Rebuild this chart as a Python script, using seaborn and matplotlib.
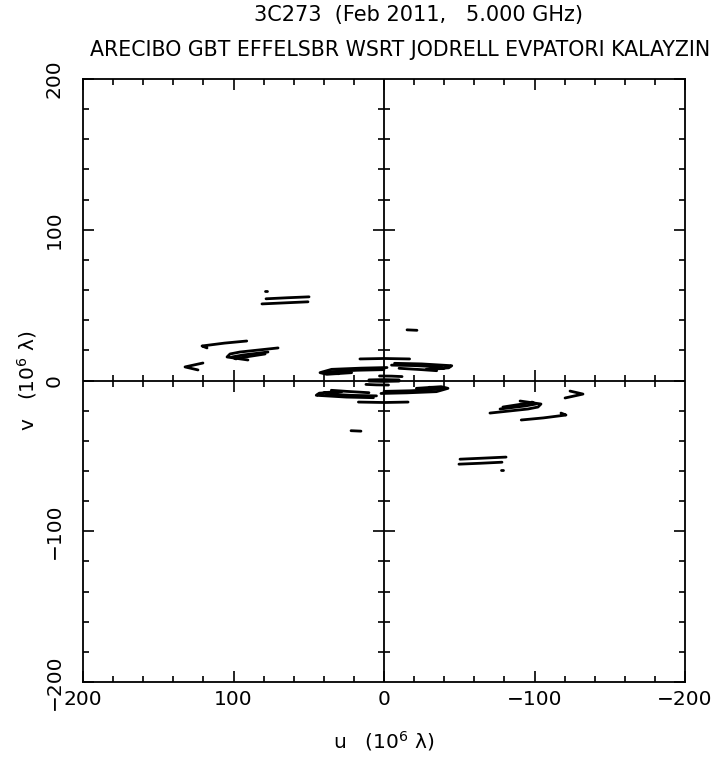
import numpy as np
import pandas as pd
import matplotlib
matplotlib.use("Agg")
import matplotlib.pyplot as plt
import seaborn as sns

# ---------------- text ----------------
title_text = "3C273  (Feb 2011,   5.000 GHz)"
stations_text = "ARECIBO GBT EFFELSBR WSRT JODRELL EVPATORI KALAYZIN"
x_label = "u   (10$^{6}$ \u03bb)"
y_label = "v   (10$^{6}$ \u03bb)"

x_ticks = [200, 100, 0, -100, -200]
x_ticklabels = ["200", "100", "0", "\u2212100", "\u2212200"]
y_ticks = [-200, -100, 0, 100, 200]
y_ticklabels = ["\u2212200", "\u2212100", "0", "100", "200"]

# ---------------- uv tracks (one half; conjugate points are drawn too) ----------------
trackA_u = [78.4, 64.0, 49.8]
trackA_v = [54.2, 54.9, 55.5]
trackB_u = [81.1, 66.0, 50.5]
trackB_v = [50.8, 51.5, 52.2]
trackC_u = [78.8, 77.6]
trackC_v = [59.5, 59.5]
trackD_u = [91.2, 106.0, 120.9, 117.6]
trackD_v = [26.2, 24.8, 22.9, 21.6]
trackE1_u = [70.4, 95.7, 102.3, 104.3, 90.4]
trackE1_v = [21.6, 18.9, 17.6, 15.6, 13.6]
trackE2_u = [77.1, 93.7, 101.0, 98.3]
trackE2_v = [18.9, 16.9, 15.6, 14.3]
trackE3_u = [79.0, 92.0, 99.0]
trackE3_v = [17.6, 15.6, 14.6]
trackF_u = [120.3, 132.2, 123.6]
trackF_v = [11.6, 9.0, 7.0]
trackG_u = [-15.3, -21.9]
trackG_v = [33.6, 33.3]
trackH_u = [16.0, 0.0, -17.0]
trackH_v = [14.3, 14.6, 14.3]
trackI1_u = [-7.0, -25.0, -45.0, -43.0, -30.0]
trackI1_v = [11.4, 11.0, 9.8, 8.4, 7.6]
trackI2_u = [-10.0, -25.0, -35.0]
trackI2_v = [8.1, 7.2, 6.5]
trackI3_u = [-5.0, -20.0, -38.0, -40.0, -28.0]
trackI3_v = [10.2, 9.9, 9.0, 8.0, 7.4]
trackJ1_u = [-2.0, 15.0, 34.8, 42.5, 38.0, 21.5]
trackJ1_v = [8.6, 8.2, 7.4, 5.2, 4.1, 5.2]
trackJ2_u = [0.0, 18.0, 36.0, 40.0, 30.0]
trackJ2_v = [7.2, 6.8, 5.8, 4.8, 4.5]
trackK1_u = [3.0, -5.0, -12.0]
trackK1_v = [3.0, 2.9, 2.6]
trackK2_u = [10.0, 0.0, -10.0]
trackK2_v = [0.4, 0.6, 0.4]

tracks = {
    "A": (trackA_u, trackA_v), "B": (trackB_u, trackB_v), "C": (trackC_u, trackC_v),
    "D": (trackD_u, trackD_v), "E1": (trackE1_u, trackE1_v), "E2": (trackE2_u, trackE2_v),
    "E3": (trackE3_u, trackE3_v), "F": (trackF_u, trackF_v), "G": (trackG_u, trackG_v),
    "H": (trackH_u, trackH_v), "I1": (trackI1_u, trackI1_v), "I2": (trackI2_u, trackI2_v),
    "I3": (trackI3_u, trackI3_v), "J1": (trackJ1_u, trackJ1_v), "J2": (trackJ2_u, trackJ2_v),
    "K1": (trackK1_u, trackK1_v), "K2": (trackK2_u, trackK2_v),
}

rows = []
for name, (us, vs) in tracks.items():
    for i, (u, v) in enumerate(zip(us, vs)):
        rows.append({"track": name, "order": i, "u": u, "v": v})
        rows.append({"track": name + "_conj", "order": i, "u": -u, "v": -v})
df = pd.DataFrame(rows)

# ---------------- figure ----------------
sns.set_theme(style="ticks")
plt.rcParams["font.family"] = ["DejaVu Sans"]
plt.rcParams["mathtext.fontset"] = "dejavusans"
plt.rcParams["text.color"] = "black"
plt.rcParams["axes.labelcolor"] = "black"
plt.rcParams["xtick.color"] = "black"
plt.rcParams["ytick.color"] = "black"

fig = plt.figure(figsize=(7.17, 7.64), dpi=100)
ax = fig.add_axes([83 / 717, 1 - 682 / 764, 602 / 717, 603 / 764])

sns.lineplot(data=df, x="u", y="v", units="track", estimator=None, sort=False,
             color="black", linewidth=2.0, ax=ax, legend=False)

ax.set_xlim(200, -200)
ax.set_ylim(-200, 200)
ax.set_aspect("auto")

# zero axes with crossing ticks
ax.axhline(0, color="black", lw=1.3, zorder=1)
ax.axvline(0, color="black", lw=1.3, zorder=1)
minor_pos = [p for p in range(-180, 181, 20) if p % 100 != 0]
major_pos = [-100, 100]
ax.plot(minor_pos, [0] * len(minor_pos), ls="none", marker="|", ms=9, mew=1.2, color="black")
ax.plot(major_pos, [0] * len(major_pos), ls="none", marker="|", ms=16, mew=1.2, color="black")
ax.plot([0] * len(minor_pos), minor_pos, ls="none", marker="_", ms=9, mew=1.2, color="black")
ax.plot([0] * len(major_pos), major_pos, ls="none", marker="_", ms=16, mew=1.2, color="black")

ax.set_xticks(x_ticks)
ax.set_xticklabels(x_ticklabels)
ax.set_yticks(y_ticks)
ax.set_yticklabels(y_ticklabels, rotation=90, va="center")
ax.set_xticks(minor_pos, minor=True)
ax.set_yticks(minor_pos, minor=True)
ax.tick_params(which="both", direction="in", top=True, right=True, color="black", width=1.2)
ax.tick_params(which="major", length=8, labelsize=14.5, pad=6)
ax.tick_params(axis="y", which="major", pad=14)
ax.tick_params(which="minor", length=4.3)
for s in ax.spines.values():
    s.set_color("black")
    s.set_linewidth(1.3)

ax.set_xlabel(x_label, fontsize=14.5, labelpad=14)
ax.set_ylabel(y_label, fontsize=14.5, labelpad=4)

fig.text(419 / 717, 1 - 15 / 764, title_text, ha="center", va="center", fontsize=15)
fig.text(400 / 717, 1 - 50 / 764, stations_text, ha="center", va="center", fontsize=14.8)

fig.savefig("out.png", dpi=100, facecolor="white")
